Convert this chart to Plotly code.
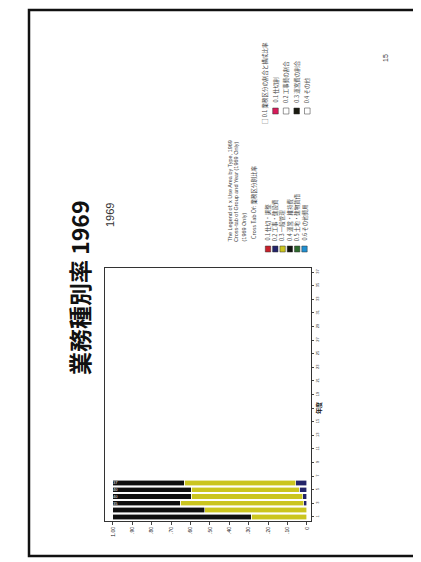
import plotly.graph_objects as go

W, H = 421, 562

# ---- data ----
categories = list(range(1, 38))          # category positions (only first 6 have data)
cat_tick_vals = list(range(1, 38, 2))
cat_tick_labels = [str(c) for c in cat_tick_vals]
series_names = ["0.1 仕切・調整", "0.2 工事・建設費", "0.3 一般管理", "0.4 運営・維持費",
                "0.5 土地・建物賃借", "0.6 その他費用"]
series_colors = ["#c8202a", "#23246a", "#cbc51f", "#111111", "#2e6b2e", "#1f8fd0"]
bar_cats = [1, 2, 3, 4, 5, 6]
values = {
    series_names[0]: [0.0, 0.0, 0.0, 0.0, 0.0, 0.0],
    series_names[1]: [0.0, 0.0, 0.017, 0.022, 0.039, 0.057],
    series_names[2]: [0.288, 0.528, 0.635, 0.575, 0.557, 0.575],
    series_names[3]: [0.712, 0.472, 0.348, 0.403, 0.404, 0.368],
    series_names[4]: [0, 0, 0, 0, 0, 0],
    series_names[5]: [0, 0, 0, 0, 0, 0],
}
black_labels = ["", "", "35", "40", "40", "37"]
value_ticks = [0, 0.1, 0.2, 0.3, 0.4, 0.5, 0.6, 0.7, 0.8, 0.9, 1.0]
value_tick_labels = ["0", ".10", ".20", ".30", ".40", ".50", ".60", ".70", ".80", ".90", "1.00"]

legend1_header = ["The Legend of: x Use Area by Type, 1969",
                  "Cross-tab of Group and Year (1969 Only)",
                  "(1969 Only)"]
legend1_sub = "Cross Tab Of: 業務区分別比率"
legend2_header = "□ 0.1 業務区分の割合と構成比率"
legend2_items = ["0.1 仕切割", "0.2 工事費の割合", "0.3 運営費の割合", "0.4 その他"]
legend2_colors = ["#d81b5a", "#ffffff", "#1a1a10", "#ffffff"]


def px(x):
    return x / W


def py(y):
    return 1 - y / H


def vtext(t, x, y, size, yanchor="middle", color="#444", cjk=False, bold=False):
    fam = "Noto Sans CJK JP, sans-serif" if cjk else "Liberation Sans, Arial, sans-serif"
    return dict(text=("<b>%s</b>" % t) if bold else t, x=px(x), y=py(y),
                xref="paper", yref="paper", xanchor="center", yanchor=yanchor,
                textangle=-90, showarrow=False,
                font=dict(size=size, color=color, family=fam))


fig = go.Figure()
for name, col in zip(series_names, series_colors):
    kw = {}
    if name == series_names[3]:
        kw = dict(text=black_labels, textposition="inside", insidetextanchor="end",
                  textfont=dict(size=4, color="white"), textangle=0)
    fig.add_trace(go.Bar(
        y=bar_cats, x=values[name], orientation="h", name=name,
        marker=dict(color=col, line=dict(color="#ffffff", width=0.6)),
        width=0.78, showlegend=False, **kw
    ))

fig.update_layout(
    width=W, height=H, margin=dict(l=0, r=0, t=0, b=0),
    paper_bgcolor="white", plot_bgcolor="white",
    barmode="stack", uniformtext=dict(minsize=4, mode="show"),
    font=dict(family="Liberation Sans, Arial, sans-serif", color="#222"),
    xaxis=dict(domain=[px(97), px(303)], range=[1.041, -0.021],
               tickvals=value_ticks, ticktext=value_tick_labels, tickangle=-90,
               tickfont=dict(size=5), ticks="outside", ticklen=3,
               showgrid=False, zeroline=False, showline=True, linecolor="#333",
               linewidth=1, mirror=True),
    yaxis=dict(domain=[py(513), py(260)], range=[0.4, 37.6], side="right",
               tickvals=cat_tick_vals, ticktext=cat_tick_labels,
               tickangle=-90, tickfont=dict(size=4), ticks="outside", ticklen=2,
               showgrid=False, zeroline=False, showline=True, linecolor="#333",
               linewidth=1, mirror=True),
)

shapes = [dict(type="rect", xref="paper", yref="paper",
               x0=px(21), x1=px(419), y0=py(548), y1=py(2),
               line=dict(color="#111", width=2.5))]
ann = []
ann.append(vtext("業務種別率 1969", 71, 280, 23, color="#111", cjk=True, bold=True))
ann.append(vtext("1969", 102, 207, 11, color="#333"))
ann.append(vtext("年度", 310, 400, 6, color="#111", cjk=True, bold=True))
ann.append(vtext("15", 377, 50, 7, color="#333"))

# legend block 1
for i, t in enumerate(legend1_header):
    ann.append(vtext(t, 221 + 7 * i, 236, 5.5, yanchor="bottom"))
ann.append(vtext(legend1_sub, 246, 233, 5.5, yanchor="bottom", cjk=True))
for i, (n, c) in enumerate(zip(series_names, series_colors)):
    xc = 260 + 7.3 * i
    shapes.append(dict(type="rect", xref="paper", yref="paper",
                       x0=px(xc - 2.7), x1=px(xc + 2.7), y0=py(244), y1=py(238),
                       fillcolor=c, line=dict(color="#333", width=0.5)))
    ann.append(vtext(n, xc, 235, 5.5, yanchor="bottom", cjk=True))

# legend block 2
ann.append(vtext(legend2_header, 257, 118, 5.5, yanchor="bottom", cjk=True))
for i, (n, c) in enumerate(zip(legend2_items, legend2_colors)):
    xc = 267.5 + 10.6 * i
    shapes.append(dict(type="rect", xref="paper", yref="paper",
                       x0=px(xc - 2.8), x1=px(xc + 2.8), y0=py(106), y1=py(100),
                       fillcolor=c, line=dict(color="#333", width=0.5)))
    ann.append(vtext(n, xc, 97, 5.5, yanchor="bottom", cjk=True))

fig.update_layout(shapes=shapes, annotations=ann)
fig.write_html("out.html")
